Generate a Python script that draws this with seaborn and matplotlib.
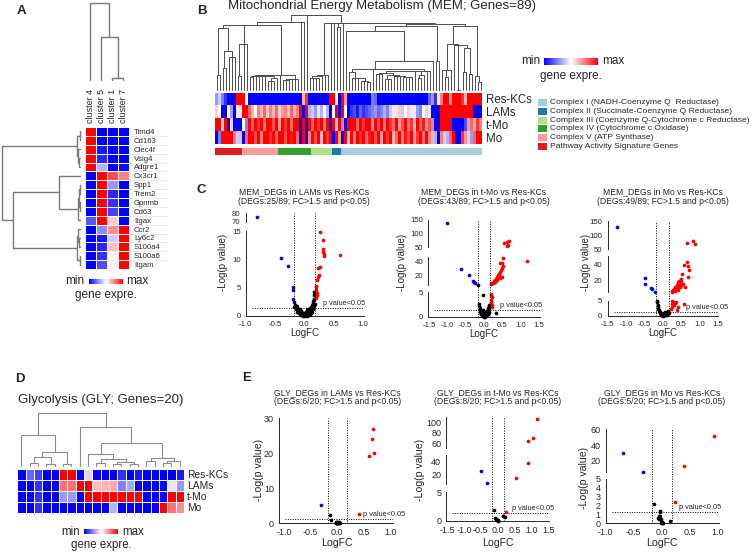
import numpy as np
import pandas as pd
import matplotlib
matplotlib.use("Agg")
import matplotlib.pyplot as plt
import seaborn as sns
from matplotlib.colors import ListedColormap
from matplotlib.patches import Rectangle

sns.set_style("white")
plt.rcParams["font.family"] = ["Liberation Sans", "DejaVu Sans"]
plt.rcParams["axes.unicode_minus"] = False

W, H = 754, 552

# ---------------- Panel A: marker genes per cluster ----------------
a_clusters = ["cluster 4", "cluster 5", "cluster 1", "cluster 7"]
a_genes = ["Timd4", "Cd163", "Clec4f", "Vsig4", "Adgre1", "Cx3cr1", "Spp1", "Trem2",
           "Gpnmb", "Cd63", "Itgax", "Ccr2", "Ly6c2", "S100a4", "S100a6", "Itgam"]
a_values = [
    [1.0, -1.0, -1.0, -1.0],
    [1.0, -1.0, -1.0, -1.0],
    [1.0, -0.9, -1.0, -1.0],
    [1.0, -0.85, -1.0, -1.0],
    [1.0, -0.3, -1.0, -0.95],
    [-1.0, 1.0, 0.7, 0.5],
    [-1.0, 1.0, -0.4, -1.0],
    [-1.0, 1.0, -0.85, -1.0],
    [-1.0, 1.0, -0.8, -1.0],
    [-1.0, 1.0, -0.75, -1.0],
    [-0.65, 1.0, 0.2, -1.0],
    [-1.0, -0.45, 0.45, 1.0],
    [-1.0, -0.9, -0.2, 1.0],
    [-1.0, -0.85, 0.25, 1.0],
    [-1.0, -0.8, 0.05, 1.0],
    [-1.0, -0.7, 0.05, 1.0],
]
# dendrograms as nested (left, right, height)
a_col_tree = (0, (1, (2, 3, 0.03), 0.56), 1.0)
a_row_tree = (((0, 1, 0.005), (2, (3, 4, 0.01), 0.02), 0.04),
              ((5, (((6, 7, 0.005), (8, 9, 0.005), 0.01), 10, 0.03), 0.27),
               ((11, (12, 13, 0.01), 0.02), (14, 15, 0.005), 0.035), 0.85), 1.0)

# ---------------- Panel B: MEM heatmap ----------------
b_groups = ["Res-KCs", "LAMs", "t-Mo", "Mo"]
b_reskc = [-0.4, -0.2, -0.5, -0.8, -1, -1, -1, 1, 1, 1, 0.0,
           -1, -1, -1, -1, -1, -1, -1, -1, -1, -1, -1, -1, -1, -1, -1, -1, -1, -1,
           0.3, 0.8, -1, -1, -1, -1, -1, -1, -1,
           1, 1, 0.0, -1, 1, 0.4, -1,
           -1, -1, -1, -1, -1, -1, -1, -0.5, -0.6,
           -1, -1, -1, -1, -1, -1, -1, -1, -1, -1, -1, -1, -1, -1, -1, -1, -1,
           -0.6, -0.4, -0.8,
           0.1, 0.5, 1, 1, 0.4, 1, 1, 1, 0.8, 0.3, 1, 1, 1, 1, 1]
b_lams = [0.2, 0.0, -1, -1, 0.0, -0.4, -1, 0.1, -0.1, 1, 1,
          0.6, 0.3, 0.0, 0.5, 0.3, 0.6, 0.2, 0.5, 0.3, 0.6, 0.2, 0.4, 0.5, 0.2, 0.6, 0.3, 0.5,
          1, -1, 1, -0.3, -0.2, -0.4, -0.1, -0.3, 0.0, -0.3,
          -1, 0.0, 1, -1, 1, 0.0, -1,
          -0.8, -0.7, -0.9, -0.6, -0.8, -0.7, -0.6,
          -0.5, -0.4, -0.6, -0.5, -0.3, -0.5,
          -0.2, 0.1, -0.1, 0.2, -0.2, 0.0, 0.2, -0.1, 0.1, -0.4, -0.5, 0.0, 0.2, -0.1,
          -1, -1, -1,
          1, 1, 1, 1, 1, 1, 1, 1, 1, 1, 1, -1, -1, -1]
b_tmo = [1, 1, 0.2, 1, -1, 0.2, -1, -1, -1, 0.0, -0.5,
         1, 0.6, 1, 0.8, 1, 0.5, 1, 1, 0.7, 1, 0.4, 1, 0.8, 1, 0.6, 1, 1,
         -1, 1, -1, 1, 0.6, 1, 0.8, 1, 0.5, 1,
         -1, 1, 0.2, 1, 0.5, -1, 1,
         1, 1, 0.6, 1, 0.8, 1, 1, 0.4, 1, 0.7, 1, 0.5, 1, 0.8, 0.6, 1, 0.4, 0.7,
         1, 0.5, 0.8, 0.3, 1, 0.6, 0.9, 0.4, 0.7, 0.5,
         -1, -1,
         1, 1, 1, 1, -1, -1, -1, -1, -0.7, 0.4, 0.6, 0.3, 0.8, 0.5]
b_mo = [-1, -0.5, 1, 1, 1, 1, 0.5, -0.2, 0.3, -1, 0.6,
        1, 1, 0.7, 1, 0.5, 1, 1, 0.8, 1, 0.6, 1, 1, 0.7, 1, 0.9, 1, 0.6,
        -1, 1, -1, 0.5, 1, 0.7, 1, 0.3, 1, 0.8,
        1, -1, 1, 0.4, -1, 1, 0.2,
        1, 0.5, 1, 0.8, 1, 0.6, 0.9, 1, 0.7, 1, 0.4, 1, 0.8, 1, 0.3, 0.6, 1, 0.5,
        0.9, 0.7, 1, 0.4, 0.8, 1, 0.6, 1, 0.5, 0.3,
        -0.3, -1,
        0.5, 0.2, -0.3, 0.6, 1, -1, -1, 0.8, 0.4, 0.2, -0.4, 0.6, 1, 1]
b_complex_labels = ["Complex I (NADH-Coenzyme Q  Reductase)",
                    "Complex II (Succinate-Coenzyme Q Reductase)",
                    "Complex III (Coenzyme Q-Cytochrome c Reductase)",
                    "Complex IV (Cytochrome c Oxidase)",
                    "Complex V (ATP Synthase)",
                    "Pathway Activity Signature Genes"]
# annotation bar blocks, left to right: (label index, number of genes)
b_bar_blocks = [(5, 9), (4, 12), (3, 11), (2, 7), (1, 3), (0, 47)]

# ---------------- Panel D: glycolysis heatmap ----------------
d_groups = ["Res-KCs", "LAMs", "t-Mo", "Mo"]
d_values = [
    [-1, -0.6, -0.75, -1, -1, 1, 1, -1, -0.15, -1, -1, -1, -0.8, -1, -0.9, -1, -1, -1, -1, -0.9],
    [-1, -1, -0.8, -1, -1, 0.55, 0.55, 1, 1, 0.25, 0.3, 0.35, -0.5, -0.35, -1, -1, -1, -1, -0.1, -0.4],
    [-1, -1, -0.8, -1, -1, -0.4, -0.4, -1, 1, 1, 1, 1, 1, 1, 1, -1, -1, -1, 1, 1],
    [-1, -1, -0.8, -1, -1, -1, -1, -1, -1, -1, -1, -0.3, -1, -1, -1, -1, -1, 1, 0.55, 0.45],
]
d_col_tree = ((0, (((1, 2, 0.05), (3, 4, 0.03), 0.17), (5, 6, 0.03), 0.26), 0.58),
              (7, ((8, ((9, 10, 0.05), ((11, 12, 0.03), (13, 14, 0.04), 0.08), 0.13), 0.22),
                   ((15, 16, 0.1), ((17, 18, 0.05), 19, 0.09), 0.16), 0.43), 0.73), 1.0)

# ---------------- Volcano data (LogFC, -Log p) ----------------
c1_down = [(-0.80, 75), (-0.40, 10.2), (-0.28, 8.8), (-0.19, 5.1), (-0.19, 4.5), (-0.19, 2.9)]
c1_up = [(0.27, 14.9), (0.32, 13.4), (0.32, 11.9), (0.32, 11.3), (0.33, 10.9), (0.33, 10.6),
         (0.60, 10.8), (0.26, 8.6), (0.23, 8.5), (0.23, 6.9), (0.22, 6.4), (0.25, 7.2),
         (0.20, 5.3), (0.19, 5.0), (0.20, 4.5), (0.22, 4.1), (0.22, 3.7), (0.19, 3.4), (0.20, 3.1)]
c1_ns = [(-0.17, 2.5), (-0.16, 1.9), (-0.14, 1.8), (-0.12, 1.7), (-0.13, 1.4), (-0.10, 1.2),
         (-0.11, 0.9), (-0.08, 1.1), (-0.07, 0.8), (-0.06, 0.6), (-0.05, 0.9), (-0.04, 0.5),
         (-0.03, 0.4), (-0.02, 0.3), (-0.01, 0.2), (0.00, 0.1), (0.00, 0.3), (0.01, 0.05),
         (0.02, 0.2), (-0.02, 0.1), (0.03, 0.4), (0.04, 0.6), (0.05, 0.3), (0.06, 0.8),
         (0.07, 0.5), (0.08, 1.0), (0.09, 0.7), (0.10, 1.3), (0.11, 1.1), (0.12, 1.6),
         (0.13, 1.9), (0.14, 2.2), (0.15, 2.6), (0.16, 3.0), (0.17, 3.6), (0.17, 4.2),
         (0.15, 1.4), (0.10, 0.4), (-0.09, 0.5), (-0.15, 1.2), (0.05, 1.0), (-0.04, 0.2),
         (0.02, 0.6), (0.00, 0.0), (-0.01, 0.5), (0.03, 0.1), (0.06, 0.2), (-0.06, 0.2),
         (0.12, 0.9), (0.14, 1.2), (-0.18, 1.5), (0.16, 1.8), (0.08, 0.3), (-0.12, 0.7),
         (0.04, 0.0), (-0.03, 0.0), (0.01, 0.4), (0.09, 0.2), (-0.07, 0.3), (0.11, 0.5),
         (0.13, 0.6), (-0.10, 0.6), (0.07, 1.2), (0.18, 2.0)]

c2_down = [(-1.00, 138), (-0.63, 29.4), (-0.40, 20), (-0.31, 12.3), (-0.26, 10), (-0.24, 8.6)]
c2_up = [(0.54, 66), (0.63, 70), (0.67, 73), (0.65, 56), (0.62, 53), (1.18, 40.4), (0.53, 45),
         (0.50, 37), (0.45, 38), (0.52, 33), (0.48, 30), (0.46, 28), (0.44, 25), (0.40, 22),
         (0.38, 20), (0.42, 19), (0.47, 18), (0.50, 17), (0.44, 16), (0.36, 17), (0.33, 15),
         (0.35, 14), (0.30, 13), (0.28, 12), (0.30, 11), (0.26, 10.5), (0.24, 9.5), (0.22, 8.5),
         (0.20, 7.5), (0.20, 4.7), (0.19, 4.4), (0.21, 4.0), (0.18, 3.5), (0.20, 3.0),
         (0.19, 2.8), (0.21, 2.5), (0.22, 2.0)]
c2_ns = [(-0.17, 6.3), (-0.02, 4.5), (0.32, 0.7), (-0.13, 2.2), (-0.12, 1.8), (-0.11, 1.5),
         (-0.10, 1.3), (-0.09, 1.0), (-0.08, 0.8), (-0.07, 1.2), (-0.06, 0.6), (-0.05, 0.9),
         (-0.04, 0.4), (-0.03, 0.7), (-0.02, 0.3), (-0.01, 0.5), (0.00, 0.1), (0.00, 0.4),
         (0.01, 0.2), (0.02, 0.6), (0.03, 0.3), (0.04, 0.8), (0.05, 0.5), (0.06, 1.0),
         (0.07, 0.7), (0.08, 1.2), (0.09, 0.9), (0.10, 1.5), (0.11, 1.1), (0.12, 1.8),
         (0.13, 2.1), (0.14, 1.6), (0.15, 2.4), (-0.14, 2.6), (-0.06, 0.2), (0.03, 0.0),
         (-0.01, 0.0), (0.06, 0.3), (0.10, 0.6), (-0.09, 0.5), (0.12, 1.3), (-0.11, 1.0),
         (0.02, 1.0), (-0.03, 1.4), (0.08, 0.4), (0.14, 1.0)]

c3_down = [(-1.25, 130), (-0.49, 22.9), (-0.49, 15.7), (-0.32, 11.6), (-0.29, 10), (-0.21, 6.5)]
c3_up = [(0.65, 70), (0.83, 79), (0.87, 67), (0.66, 42), (0.58, 39), (0.69, 37.6), (0.72, 32.8),
         (0.53, 28.5), (0.67, 24.8), (0.50, 22), (0.45, 20), (0.47, 19), (0.42, 18), (0.50, 18),
         (0.44, 17), (0.40, 16), (0.55, 16), (0.48, 15), (0.38, 15), (0.43, 14), (0.36, 13),
         (0.46, 13), (0.33, 12), (0.60, 12), (0.39, 11), (0.30, 10), (0.35, 10), (0.27, 9),
         (0.41, 9), (0.24, 8), (0.32, 8), (0.26, 7), (0.24, 4.8), (0.28, 4.6), (0.32, 4.3),
         (0.36, 4.5), (0.25, 4.0), (0.58, 3.9), (0.30, 3.5), (0.26, 3.0), (0.40, 2.8),
         (0.22, 2.2), (0.38, 1.9)]
c3_ns = [(-0.15, 5.0), (-0.15, 4.5), (-0.14, 3.6), (-0.13, 2.9), (-0.12, 2.4), (-0.11, 2.0),
         (-0.10, 1.7), (-0.09, 1.4), (-0.08, 1.2), (-0.07, 0.9), (-0.06, 0.7), (-0.05, 0.5),
         (-0.04, 0.3), (-0.03, 0.2), (-0.02, 0.1), (0.00, 0.0), (0.01, 0.2), (0.02, 0.1),
         (0.03, 0.3), (0.04, 0.5), (0.05, 0.4), (0.06, 0.7), (0.07, 0.6), (0.08, 0.9),
         (0.09, 0.5), (0.10, 1.0), (0.11, 0.8), (0.12, 1.2), (0.13, 1.0), (0.14, 1.4),
         (0.15, 1.6), (0.16, 0.9), (-0.01, 0.4), (0.00, 0.6), (0.02, 0.8), (-0.05, 1.0),
         (0.05, 1.1), (0.08, 0.2), (-0.02, 0.6), (0.11, 0.3)]

e1_down = [(-0.30, 5.1)]
e1_up = [(0.68, 26.9), (0.65, 24.1), (0.69, 20.1), (0.60, 19.1), (0.40, 2.6)]
e1_ns = [(-0.14, 2.4), (-0.12, 1.0), (-0.02, 0.3), (0.00, 0.3), (0.04, 0.3), (0.02, 0.2),
         (-0.01, 0.1), (0.01, 0.4), (0.03, 0.1), (-0.03, 0.2), (0.00, 0.0), (0.05, 0.2),
         (-0.02, 0.0), (0.01, 0.1)]

e2_down = [(-0.49, 25.5), (-0.31, 8.0)]
e2_up = [(1.15, 106), (1.04, 71), (0.91, 65), (0.91, 37), (0.55, 14.6), (0.25, 1.6)]
e2_ns = [(-0.11, 1.9), (-0.07, 0.5), (-0.05, 0.4), (-0.02, 0.2), (0.00, 0.15), (0.01, 0.05),
         (-0.03, 0.1), (0.15, 0.9), (0.22, 0.75), (0.17, 0.8), (-0.04, 0.3), (0.02, 0.0)]

e3_down = [(-0.69, 29.4), (-0.33, 6.0)]
e3_up = [(0.93, 51.5), (0.39, 12.9), (0.23, 2.43)]
e3_ns = [(-0.14, 2.13), (-0.03, 1.42), (-0.03, 1.3), (-0.04, 0.85), (-0.03, 0.8), (-0.05, 0.48),
         (-0.02, 0.48), (-0.01, 0.3), (0.00, 0.2), (0.01, 0.1), (0.03, 0.07), (0.14, 0.3),
         (-0.02, 0.05), (0.00, 0.0), (-0.06, 0.6)]

FC_CUT = np.log10(1.5)
P_CUT = -np.log10(0.05)

fig = plt.figure(figsize=(W / 100, H / 100), dpi=100)
fig.patch.set_facecolor("white")


def px_rect(x0, y0, x1, y1):
    return [x0 / W, 1 - y1 / H, (x1 - x0) / W, (y1 - y0) / H]


def ftext(x, y, s, **kw):
    return fig.text(x / W, 1 - y / H, s, **kw)


def tree_segments(node, leaf_pos):
    if isinstance(node, int):
        return leaf_pos[node], 0.0, []
    left, right, h = node
    xl, hl, sl = tree_segments(left, leaf_pos)
    xr, hr, sr = tree_segments(right, leaf_pos)
    return (xl + xr) / 2, h, sl + sr + [([xl, xl, xr, xr], [hl, h, h, hr])]


def node_height(node):
    return 0.0 if isinstance(node, int) else node[2]


def adjacent_tree(mat):
    # average-linkage clustering of columns, merging only neighbours (keeps column order)
    cols = np.asarray(mat, dtype=float).T
    nodes = [(i, [i]) for i in range(len(cols))]
    while len(nodes) > 1:
        d = [np.mean([np.linalg.norm(cols[a] - cols[b]) for a in nodes[k][1] for b in nodes[k + 1][1]])
             for k in range(len(nodes) - 1)]
        k = int(np.argmin(d))
        (t1, m1), (t2, m2) = nodes[k], nodes[k + 1]
        h = max(d[k], node_height(t1), node_height(t2))
        nodes[k:k + 2] = [((t1, t2, h), m1 + m2)]
    return nodes[0][0]


def draw_dendro(rect, tree, n, orient="top", color="#808080", lw=0.9):
    ax = fig.add_axes(px_rect(*rect))
    _, top, segs = tree_segments(tree, {i: i + 0.5 for i in range(n)})
    for xs, hs in segs:
        if orient == "top":
            ax.plot(xs, hs, color=color, lw=lw, clip_on=False)
        else:
            ax.plot(hs, xs, color=color, lw=lw, clip_on=False)
    if orient == "top":
        ax.set_xlim(0, n)
        ax.set_ylim(0, top)
    else:
        ax.set_ylim(n, 0)
        ax.set_xlim(top, 0)
    ax.axis("off")
    return ax


def gradient_bar(x0, y0, x1, y1, fs):
    cax = fig.add_axes(px_rect(x0, y0, x1, y1))
    cax.imshow(np.linspace(0, 1, 256)[None, :], aspect="auto", cmap="bwr")
    cax.axis("off")
    yc = (y0 + y1) / 2
    ftext(x0 - 4, yc, "min", ha="right", va="center", fontsize=fs)
    ftext(x1 + 4, yc, "max", ha="left", va="center", fontsize=fs)
    ftext((x0 + x1) / 2, y1 + 11, "gene expre.", ha="center", va="center", fontsize=fs)


# ---------------- Panel A ----------------
ax_a = fig.add_axes(px_rect(85, 127, 128.5, 269))
sns.heatmap(pd.DataFrame(a_values, index=a_genes, columns=a_clusters), cmap="bwr", vmin=-1, vmax=1,
            cbar=False, linewidths=0.5, linecolor="white", xticklabels=True, yticklabels=True, ax=ax_a)
# faint guide lines under the gene names
ax_a.hlines(np.arange(1, len(a_genes)), 4, 7.6, colors="#e4e4e4", lw=0.5, clip_on=False)
ax_a.xaxis.tick_top()
ax_a.yaxis.tick_right()
ax_a.tick_params(axis="x", length=0, labelsize=6.5, rotation=90, pad=3)
ax_a.tick_params(axis="y", length=0, labelsize=5.6, rotation=0, pad=4)
ax_a.set_xlabel("")
ax_a.set_ylabel("")
draw_dendro((85, 3, 128.5, 80), a_col_tree, 4, "top", "#7a7a7a", 1.0)
draw_dendro((1.5, 127, 80, 269), a_row_tree, 16, "left", "#7a7a7a", 1.0)
gradient_bar(88.5, 278.5, 122.5, 284, 8.5)

# ---------------- Panel B ----------------
b_values = [b_reskc, b_lams, b_tmo, b_mo]
ax_b = fig.add_axes(px_rect(215, 92.5, 482, 143.5))
sns.heatmap(pd.DataFrame(b_values, index=b_groups), cmap="bwr", vmin=-1, vmax=1, cbar=False,
            xticklabels=False, yticklabels=b_groups, ax=ax_b)
ax_b.yaxis.tick_right()
ax_b.tick_params(axis="y", length=0, labelsize=8.3, rotation=0, pad=3)
b_tree = adjacent_tree(b_values)
draw_dendro((215, 15, 482, 90), b_tree, len(b_reskc), "top", "#4d4d4d", 0.7)

paired = sns.color_palette("Paired")[:6]
bar_codes = [[idx for idx, cnt in b_bar_blocks for _ in range(cnt)]]
ax_bar = fig.add_axes(px_rect(215, 147.5, 482, 154.5))
sns.heatmap(bar_codes, cmap=ListedColormap(paired), vmin=-0.5, vmax=5.5, cbar=False,
            xticklabels=False, yticklabels=False, ax=ax_bar)

gradient_bar(544, 57.5, 598, 65.5, 8.5)

ax_leg = fig.add_axes(px_rect(530, 95, 754, 155))
ax_leg.set_xlim(530, 754)
ax_leg.set_ylim(155, 95)
ax_leg.axis("off")
for i, (lab, col) in enumerate(zip(b_complex_labels, paired)):
    yc = 102.7 + i * 8.7
    ax_leg.add_patch(Rectangle((538, yc - 3.5), 8.5, 7, facecolor=col, edgecolor="none"))
    ax_leg.text(550, yc, lab, va="center", ha="left", fontsize=6.1)

ftext(228, 9, "Mitochondrial Energy Metabolism (MEM; Genes=89)", ha="left", va="baseline", fontsize=9.5)

# ---------------- Panel D ----------------
ax_d = fig.add_axes(px_rect(17.3, 468.7, 184, 512.7))
sns.heatmap(pd.DataFrame(d_values, index=d_groups), cmap="bwr", vmin=-1, vmax=1, cbar=False,
            linewidths=0.5, linecolor="white", xticklabels=False, yticklabels=d_groups, ax=ax_d)
ax_d.yaxis.tick_right()
ax_d.tick_params(axis="y", length=0, labelsize=7.4, rotation=0, pad=2)
draw_dendro((17.3, 413, 184, 466), d_col_tree, 20, "top", "#8c8c8c", 0.8)
gradient_bar(84, 529, 118, 534.3, 8.3)
ftext(17.7, 403, "Glycolysis (GLY; Genes=20)", ha="left", va="baseline", fontsize=9.5)


# ---------------- Volcano plots ----------------
def volcano(x0, x1, xlim, xticks, segs, titles, title_y, down, up, ns, ptxt_x,
            ylab_x, ylab_y, xlab_y, tick_fs, lab_fs):
    span = xlim[1] - xlim[0]
    zero_px = x0 + (0 - xlim[0]) / span * (x1 - x0)
    groups = [(ns, "black"), (down, "#0000ff"), (up, "#ff0000")]
    for i, (lo, hi, ylo, yhi, ticks) in enumerate(segs):
        ax = fig.add_axes(px_rect(x0, yhi, x1, ylo))
        ax.patch.set_alpha(0)
        for pts, col in groups:
            arr = np.asarray(pts, dtype=float)
            m = (arr[:, 1] >= lo) & (arr[:, 1] <= hi)
            if m.any():
                sns.scatterplot(x=arr[m, 0], y=arr[m, 1], ax=ax, color=col, s=7, linewidth=0,
                                legend=False, clip_on=False, zorder=3)
        ax.set_xlim(xlim)
        ax.set_ylim(lo, hi)
        ax.set_yticks(ticks)
        ax.set_yticklabels([f"{t:g}" for t in ticks])
        ax.set_yticks([lo, hi], minor=True)
        for s in ["top", "right"]:
            ax.spines[s].set_visible(False)
        if i == 0:
            ax.set_xticks(xticks)
            ax.set_xticklabels([f"{t:.1f}" for t in xticks])
            hx0 = xlim[0] + 6 / (x1 - x0) * span
            ax.hlines(P_CUT, hx0, xlim[1], colors="black", linestyles=(0, (1, 1.5)), lw=0.7)
            ax.annotate("p value<0.05", (ptxt_x, P_CUT), xytext=(0, 0.8), textcoords="offset points",
                        fontsize=5.3, ha="left", va="bottom")
        else:
            ax.spines["bottom"].set_visible(False)
            ax.set_xticks([])
        ax.tick_params(which="both", length=2.5, width=0.6, labelsize=tick_fs, pad=1.2)
        for sp in ax.spines.values():
            sp.set_linewidth(0.7)
        ax.set_xlabel("")
        ax.set_ylabel("")
    top_px = segs[-1][3]
    bot_px = segs[0][2]
    ax_v = fig.add_axes(px_rect(x0, top_px, x1, bot_px))
    ax_v.set_xlim(xlim)
    ax_v.axis("off")
    for v in (-FC_CUT, FC_CUT):
        ax_v.axvline(v, color="black", ls=(0, (1, 1.5)), lw=0.7)
    ftext(zero_px, title_y, titles[0], ha="center", va="baseline", fontsize=6.2)
    ftext(zero_px, title_y + 9, titles[1], ha="center", va="baseline", fontsize=6.2)
    ftext(ylab_x, ylab_y, "-Log(p value)", rotation=90, ha="center", va="center", fontsize=lab_fs)
    ftext(zero_px, xlab_y, "LogFC", ha="center", va="center", fontsize=lab_fs)


xt1 = [-1.0, -0.5, 0.0, 0.5, 1.0]
xt15 = [-1.5, -1.0, -0.5, 0.0, 0.5, 1.0, 1.5]

volcano(245.7, 364.2, (-1.0, 1.02), xt1,
        [(0, 15, 315.7, 231, [0, 5, 10, 15]), (70, 80, 221.7, 213, [70, 80])],
        ["MEM_DEGs in LAMs vs Res-KCs", "(DEGs:25/89; FC>1.5 and p<0.05)"], 194.5,
        c1_down, c1_up, c1_ns, 0.31, 223, 262, 333, 5.6, 7)
volcano(428.4, 539.6, (-1.52, 1.52), xt15,
        [(0, 5, 316.7, 292.3, [0, 5]), (6, 46, 285.1, 257.1, [20, 40]),
         (50, 150, 247, 220, [50, 100, 150])],
        ["MEM_DEGs in t-Mo vs Res-KCs", "(DEGs:43/89; FC>1.5 and p<0.05)"], 194.5,
        c2_down, c2_up, c2_ns, 0.45, 402, 262, 334, 5.6, 7)
volcano(607.5, 718.2, (-1.5, 1.5), xt15,
        [(0, 5, 315.7, 300.7, [0, 5]), (6, 50, 292.4, 255.7, [20, 40]),
         (50, 150, 249, 221.3, [50, 100, 150])],
        ["MEM_DEGs in Mo vs Res-KCs", "(DEGs:49/89; FC>1.5 and p<0.05)"], 194.5,
        c3_down, c3_up, c3_ns, 0.62, 586, 262, 333, 5.6, 7)

volcano(279, 393, (-1.1, 1.05), xt1,
        [(0, 30, 523.3, 418, [0, 10, 20, 30])],
        ["GLY_DEGs in LAMs vs Res-KCs", "(DEGs:6/20; FC>1.5 and p<0.05)"], 395,
        e1_down, e1_up, e1_ns, 0.49, 258.5, 470, 543, 6.5, 7.6)
volcano(446.3, 549.1, (-1.52, 1.52), xt15,
        [(0, 5, 521, 492, [0, 5]), (6, 49, 484.1, 455.3, [20, 40]),
         (52, 110, 447.5, 417.3, [60, 80, 100])],
        ["GLY_DEGs in t-Mo vs Res-KCs", "(DEGs:8/20; FC>1.5 and p<0.05)"], 395,
        e2_down, e2_up, e2_ns, 0.43, 420, 470, 543, 6.5, 7.6)
volcano(605.7, 718.8, (-1.0, 1.02), xt1,
        [(0, 5, 523.3, 478.7, [0, 1, 2, 3, 4, 5]), (5, 60, 472.5, 429.3, [20, 40, 60])],
        ["GLY_DEGs in Mo vs Res-KCs", "(DEGs:5/20; FC>1.5 and p<0.05)"], 395,
        e3_down, e3_up, e3_ns, 0.31, 584, 478, 543, 6.5, 7.6)

# panel letters
for letter, x, y in [("A", 21, 11.5), ("B", 202, 11), ("C", 201, 190), ("D", 19.5, 379.5), ("E", 246.7, 378.3)]:
    ftext(x, y, letter, ha="center", va="center", fontsize=9.5, fontweight="bold")

fig.savefig("out.png", dpi=100)
